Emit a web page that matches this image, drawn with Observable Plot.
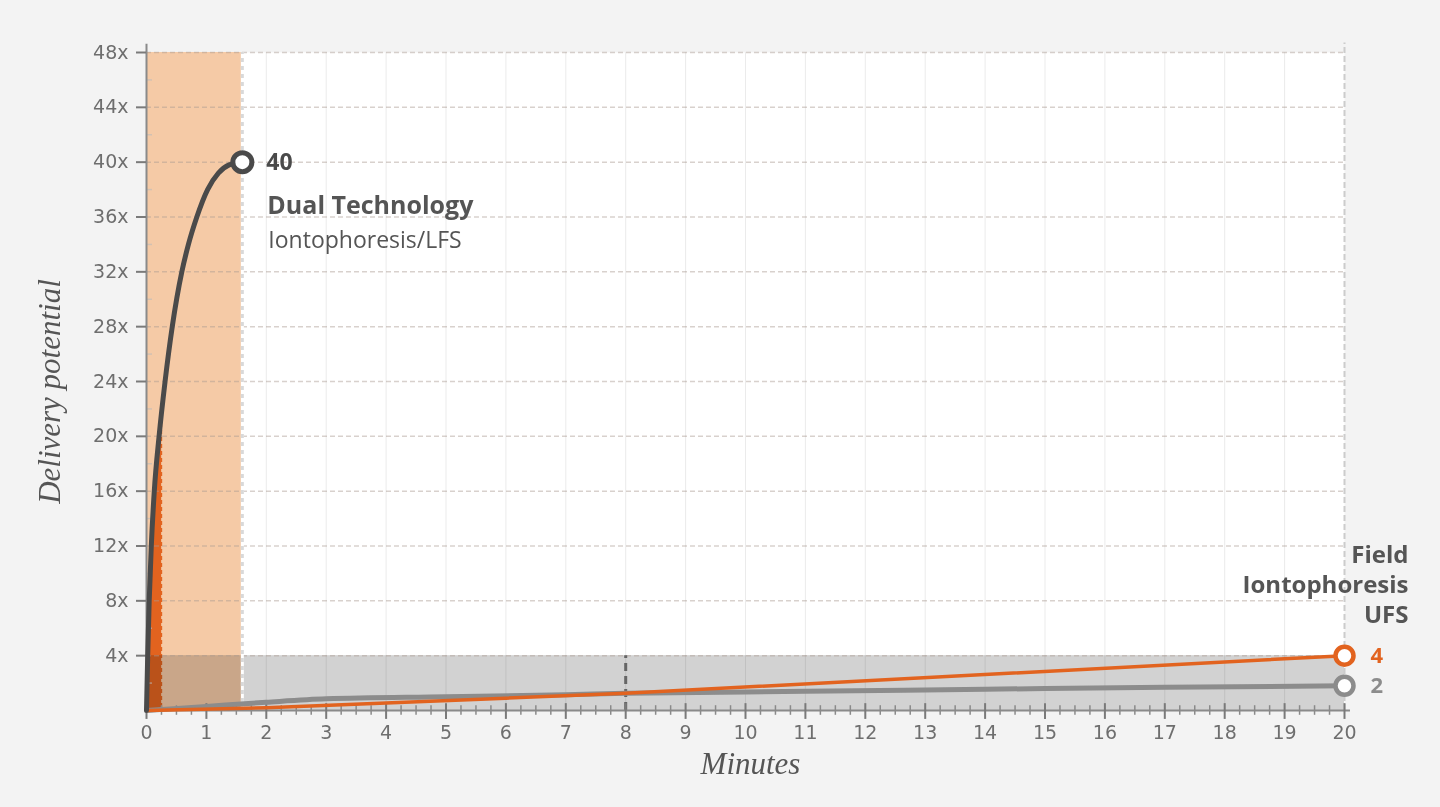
<!DOCTYPE html>
<html><head><meta charset="utf-8">
<script src="https://cdn.jsdelivr.net/npm/d3@7"></script>
<script src="https://cdn.jsdelivr.net/npm/@observablehq/plot@0.6"></script>
<style>
html,body{margin:0;padding:0;background:#f3f3f3;}
#chart{width:1440px;height:807px;}
</style></head><body><div id="chart"></div>
<script>
// ---- data ----
const xTicks = [0,1,2,3,4,5,6,7,8,9,10,11,12,13,14,15,16,17,18,19,20];
const xMinor = d3.range(0, 20.001, 0.25).filter(d => d % 1 !== 0);
const yTicks = [4,8,12,16,20,24,28,32,36,40,44,48];
const yMinor = [2,6,10,14,18,22,26,30,34,38,42,46];
const yTickLabels = ["4x","8x","12x","16x","20x","24x","28x","32x","36x","40x","44x","48x"];

const dualMinutes = [0, 0.02, 0.045, 0.08, 0.13, 0.21, 0.31, 0.43, 0.59, 0.7, 0.84, 1.02, 1.2, 1.38, 1.6];
const dualValues  = [0, 4, 8, 12, 16, 20, 24, 28, 32, 34, 36, 38, 39.2, 39.8, 40];

const spikeMinutes = [0, 0.02, 0.045, 0.08, 0.13, 0.21, 0.27];
const spikeValues  = [0, 4, 8, 12, 16, 20, 22.4];

const orangeMinutes = [0, 2, 4, 6, 8, 20];
const orangeValues  = [0, 0.2, 0.55, 0.9, 1.25, 4];

const grayMinutes = [0, 1, 2, 3, 5, 7, 8, 11, 14, 17, 20];
const grayValues  = [0, 0.3, 0.6, 0.85, 1.0, 1.15, 1.25, 1.4, 1.55, 1.7, 1.8];

const orangeZone = {x1: 0, x2: 1.6, y1: 0, y2: 48};
const grayZone = {x1: 0, x2: 20, y1: 0, y2: 4};
const marker8 = {minute: 8, top: 4};
const spikeEdge = {minute: 0.27, top: 22.4};

const dualEnd = {minute: 1.6, value: 40, label: "40"};
const orangeEnd = {minute: 20, value: 4, label: "4"};
const grayEnd = {minute: 20, value: 1.8, label: "2"};
const dualTitle = "Dual Technology";
const dualSubtitle = "Iontophoresis/LFS";
const fieldTitle = ["Field", "Iontophoresis", "UFS"];
const xTitle = "Minutes";
const yTitle = "Delivery potential";

// ---- tables ----
const zip = (xs, ys) => xs.map((m, i) => ({m, v: ys[i]}));
const dual = zip(dualMinutes, dualValues);
const spike = zip(spikeMinutes, spikeValues);
const orange = zip(orangeMinutes, orangeValues);
const gray = zip(grayMinutes, grayValues);

const SANS = "Open Sans";
const TICKF = "DejaVu Sans";
const SERIF = "Liberation Serif";
const fieldOffsets = [-100, -70, -40];

const chart = Plot.plot({
  width: 1440, height: 807,
  marginLeft: 146, marginRight: 96, marginTop: 52, marginBottom: 97,
  x: {domain: [0, 20]},
  y: {domain: [0, 48]},
  style: {background: "transparent", fontFamily: TICKF},
  marks: [
    Plot.frame({fill: "#ffffff", stroke: null}),
    Plot.ruleX(xTicks.slice(1, -1), {stroke: "#ebebeb", strokeWidth: 1}),
    Plot.rect([orangeZone], {x1: "x1", x2: "x2", y1: "y1", y2: "y2", fill: "#f5caa6"}),
    Plot.areaY(spike, {x: "m", y: "v", fill: "#e2631f", curve: "monotone-x"}),
    Plot.ruleX([spikeEdge], {x: "minute", y1: 0, y2: "top", stroke: "#f5caa6", strokeWidth: 3, strokeDasharray: "3,4"}),
    Plot.rect([grayZone], {x1: "x1", x2: "x2", y1: "y1", y2: "y2", fill: "#d2d2d2", mixBlendMode: "multiply"}),
    Plot.ruleY(yTicks, {x1: 0, x2: 20, stroke: "#a89a90", strokeOpacity: 0.45, strokeWidth: 1.5, strokeDasharray: "5,3"}),
    Plot.ruleY(yMinor, {x1: 0, x2: 0.1, stroke: "#bbbbbb", strokeOpacity: 0.6, strokeWidth: 1.5}),
    Plot.ruleX([orangeZone], {x: "x2", y1: 0, y2: 48, stroke: "#ffffff", strokeWidth: 3}),
    Plot.ruleX([orangeZone], {x: "x2", y1: 0, y2: 48, stroke: "#d9d9d9", strokeWidth: 3, strokeDasharray: "4,4"}),
    Plot.ruleX([20], {y1: 0, y2: 48.7, stroke: "#cccccc", strokeWidth: 2, strokeDasharray: "6,3"}),
    Plot.ruleX([marker8], {x: "minute", y1: 0, y2: "top", stroke: "#666666", strokeWidth: 3, strokeDasharray: "8,5"}),
    // axes
    Plot.ruleY([0], {x1: 0, x2: 20.1, stroke: "#8a8a8a", strokeWidth: 2}),
    Plot.ruleX([0], {y1: 0, y2: 48.6, stroke: "#8a8a8a", strokeWidth: 2}),
    Plot.ruleX(xTicks, {y1: -0.65, y2: 0.5, stroke: "#7a7a7a", strokeWidth: 2}),
    Plot.ruleX(xMinor, {y1: -0.35, y2: 0.35, stroke: "#8a8a8a", strokeWidth: 1.5}),
    Plot.axisX({ticks: xTicks, tickSize: 0, tickPadding: 15, fontSize: 19, fill: "#6e6e6e", tickFormat: d => String(d)}),
    Plot.axisY({ticks: yTicks, tickSize: 10, tickPadding: 8, fontSize: 19, fill: "#6e6e6e", stroke: "#7a7a7a", strokeWidth: 2, tickFormat: d => yTickLabels[yTicks.indexOf(d)]}),
    // lines
    Plot.line(gray, {x: "m", y: "v", stroke: "#8c8c8c", strokeWidth: 5, curve: "monotone-x"}),
    Plot.line(orange, {x: "m", y: "v", stroke: "#e2631f", strokeWidth: 3.5, curve: "linear"}),
    Plot.line(dual, {x: "m", y: "v", stroke: "#4a4a4a", strokeWidth: 5, curve: "monotone-x"}),
    Plot.dot([dualEnd], {x: "minute", y: "value", r: 9.5, fill: "#ffffff", stroke: "#4a4a4a", strokeWidth: 5}),
    Plot.dot([orangeEnd], {x: "minute", y: "value", r: 9, fill: "#ffffff", stroke: "#e2631f", strokeWidth: 4.5}),
    Plot.dot([grayEnd], {x: "minute", y: "value", r: 9, fill: "#ffffff", stroke: "#8c8c8c", strokeWidth: 4.5}),
    // labels
    Plot.text([dualEnd], {x: "minute", y: "value", text: "label", dx: 24, textAnchor: "start", fontSize: 23, fontWeight: "bold", fill: "#4a4a4a", fontFamily: SANS}),
    Plot.text([dualEnd], {x: "minute", y: "value", text: () => dualTitle, dx: 25, dy: 44, textAnchor: "start", fontSize: 25, fontWeight: "bold", fill: "#555555", fontFamily: SANS}),
    Plot.text([dualEnd], {x: "minute", y: "value", text: () => dualSubtitle, dx: 26, dy: 78, textAnchor: "start", fontSize: 23, fill: "#555555", fontFamily: SANS}),
    Plot.text([orangeEnd], {x: "minute", y: "value", text: "label", dx: 26, textAnchor: "start", fontSize: 22, fontWeight: "bold", fill: "#e2631f", fontFamily: SANS}),
    Plot.text([grayEnd], {x: "minute", y: "value", text: "label", dx: 26, textAnchor: "start", fontSize: 22, fontWeight: "bold", fill: "#8c8c8c", fontFamily: SANS}),
    ...fieldTitle.map((t, i) => Plot.text([orangeEnd], {x: "minute", y: "value", text: () => t, dx: 64, dy: fieldOffsets[i], textAnchor: "end", fontSize: 24, fontWeight: "bold", fill: "#555555", fontFamily: SANS})),
    Plot.text([xTitle], {frameAnchor: "bottom", text: d => d, textAnchor: "middle", dx: 5, dy: 63, fontSize: 31, fontStyle: "italic", fill: "#555555", fontFamily: SERIF}),
    Plot.text([yTitle], {frameAnchor: "left", text: d => d, textAnchor: "middle", dx: -96, dy: 10, rotate: -90, fontSize: 31, fontStyle: "italic", fill: "#555555", fontFamily: SERIF})
  ]
});
document.getElementById("chart").appendChild(chart);
</script></body></html>
